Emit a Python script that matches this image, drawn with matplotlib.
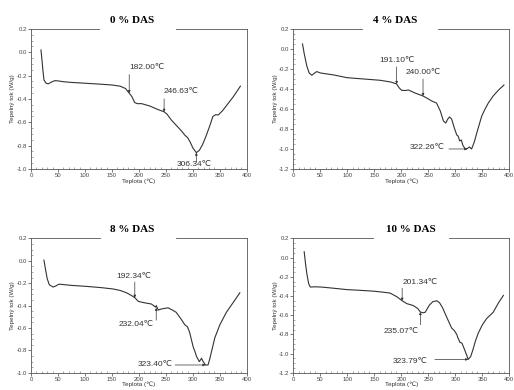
import matplotlib
matplotlib.use("Agg")
import matplotlib.pyplot as plt
from matplotlib.ticker import MultipleLocator
from matplotlib.lines import Line2D

plt.rcParams['font.family'] = ['Liberation Sans', 'DejaVu Sans']

# DSC curves: temperature (°C) and heat flow (W/g) for each DAS content
titles = ["0 % DAS", "4 % DAS", "8 % DAS", "10 % DAS"]

t_0 = [18.5, 20, 22, 24, 28, 32, 38, 44, 50, 60, 75, 100, 125, 150, 165, 175, 182, 187,
       192, 197, 205, 220, 235, 246.6, 252, 260, 270, 280, 285, 290, 295, 300, 306.3,
       312, 318, 325, 332, 337, 342, 347, 355, 365, 375, 388]
q_0 = [0.02, -0.05, -0.15, -0.237, -0.265, -0.27, -0.255, -0.243, -0.245, -0.252, -0.258,
       -0.265, -0.272, -0.28, -0.29, -0.31, -0.35, -0.38, -0.43, -0.44, -0.44, -0.46, -0.49,
       -0.51, -0.53, -0.58, -0.63, -0.68, -0.71, -0.73, -0.77, -0.82, -0.86, -0.84, -0.79,
       -0.71, -0.62, -0.55, -0.535, -0.537, -0.50, -0.44, -0.38, -0.29]

t_4 = [16.7, 20, 24.7, 29, 34, 38, 43, 50, 75, 99, 130, 160.5, 180, 191.1, 196, 200.7, 208,
       213, 225, 240, 250, 256, 265, 272, 277.8, 282, 286, 289, 293, 298, 302.5, 305, 308,
       311, 313.6, 318, 322.3, 326, 330, 335, 339.6, 348.8, 355, 361, 370, 380, 390]
q_4 = [0.05, -0.05, -0.17, -0.24, -0.263, -0.245, -0.226, -0.24, -0.26, -0.287, -0.30,
       -0.313, -0.33, -0.35, -0.39, -0.414, -0.415, -0.41, -0.44, -0.47, -0.50, -0.52, -0.54,
       -0.62, -0.72, -0.74, -0.70, -0.68, -0.70, -0.79, -0.86, -0.87, -0.92, -0.91, -0.96,
       -1.0, -0.995, -0.98, -1.0, -0.93, -0.84, -0.67, -0.60, -0.54, -0.47, -0.41, -0.36]

t_8 = [24, 27, 30, 34, 41, 46, 52, 75, 103, 130, 152, 165, 177, 186, 192.3, 199, 210, 223,
       231, 232, 236, 242, 254, 262, 269, 278, 285, 290, 294, 297, 300.6, 303, 307, 312,
       316, 319, 323.4, 328, 331, 334.5, 340.7, 350, 362, 375, 387]
q_8 = [0.005, -0.08, -0.16, -0.215, -0.235, -0.225, -0.209, -0.22, -0.229, -0.24, -0.252,
       -0.265, -0.286, -0.31, -0.33, -0.363, -0.375, -0.386, -0.414, -0.40, -0.44, -0.43,
       -0.42, -0.44, -0.46, -0.52, -0.571, -0.59, -0.64, -0.70, -0.77, -0.80, -0.857, -0.90,
       -0.87, -0.90, -0.93, -0.93, -0.88, -0.81, -0.686, -0.571, -0.46, -0.37, -0.286]

t_10 = [19.8, 22, 24.7, 28, 31, 40, 51, 75, 99, 125, 148, 165, 179, 192, 201.3, 210, 222,
        230, 235.1, 240, 244, 252, 258, 265.5, 270.5, 276, 281, 287, 293, 298, 302.5, 305,
        308.6, 312, 315, 319.8, 323.8, 328.4, 333, 337, 342.6, 350, 358, 370, 380, 389]
q_10 = [0.06, -0.05, -0.167, -0.27, -0.307, -0.305, -0.307, -0.32, -0.334, -0.342, -0.35,
        -0.36, -0.37, -0.41, -0.45, -0.48, -0.50, -0.53, -0.567, -0.575, -0.57, -0.494, -0.46,
        -0.45, -0.47, -0.52, -0.584, -0.66, -0.734, -0.76, -0.80, -0.84, -0.884, -0.89,
        -0.93, -1.0, -1.06, -1.03, -0.95, -0.87, -0.784, -0.70, -0.634, -0.57, -0.47, -0.394]

temps = [t_0, t_4, t_8, t_10]
flows = [q_0, q_4, q_8, q_10]

# Marked transition temperatures and the heat flow at each mark
mark_t = [[182.00, 246.63, 306.34], [191.10, 240.00, 322.26],
          [192.34, 232.04, 323.40], [201.34, 235.07, 323.79]]
mark_q = [[-0.35, -0.51, -0.86], [-0.35, -0.47, -1.0],
          [-0.33, -0.42, -0.93], [-0.45, -0.567, -1.06]]

ylims = [(-1.0, 0.2), (-1.2, 0.2), (-1.0, 0.2), (-1.2, 0.2)]

# Label layout per mark: (mode, text x, text y, ha, arrow start)
# 'down': arrow from above; 'up': arrow from below; 'left': horizontal arrow from the left
label_layout = [
    [('down', 183, -0.13, 'left', -0.19), ('down', 245, -0.34, 'left', -0.40),
     ('up', 303, -0.965, 'center', -0.94)],
    [('down', 191, -0.12, 'center', -0.18), ('down', 240, -0.24, 'center', -0.30),
     ('left', 247, -0.99, 'center', 288)],
    [('down', 190, -0.137, 'center', -0.19), ('up', 194, -0.57, 'center', -0.53),
     ('left', 231, -0.93, 'center', 267)],
    [('down', 203, -0.257, 'left', -0.32), ('up', 199, -0.767, 'center', -0.70),
     ('left', 217, -1.08, 'center', 262)],
]

positions = [(0.0603, 0.5667, 0.359), (0.571, 0.5667, 0.359),
             (0.0603, 0.044, 0.345), (0.571, 0.044, 0.345)]
title_x = [0.47, 0.47, 0.47, 0.545]
gaps = [(0.315, 0.67), (0.316, 0.668), (0.318, 0.67), (0.37, 0.72)]

fig = plt.figure(figsize=(5.14, 3.9), dpi=100)
line_col = '#333333'

for i in range(4):
    left, bottom, height = positions[i]
    ax = fig.add_axes([left, bottom, 0.420, height])
    ax.plot(temps[i], flows[i], color=line_col, lw=0.8)
    ax.set_xlim(0, 400)
    ax.set_ylim(*ylims[i])
    ax.xaxis.set_major_locator(MultipleLocator(50))
    ax.xaxis.set_minor_locator(MultipleLocator(10))
    ax.yaxis.set_major_locator(MultipleLocator(0.2))
    ax.yaxis.set_minor_locator(MultipleLocator(0.05))
    ax.yaxis.set_major_formatter(lambda v, pos: f"{v:.1f}")
    ax.tick_params(which='major', direction='out', length=2, width=0.5,
                   labelsize=4.3, colors='#444444', pad=1)
    ax.tick_params(which='minor', direction='in', length=1.5, width=0.4, colors='#666666')
    for s in ['left', 'right', 'bottom']:
        ax.spines[s].set_linewidth(0.6)
        ax.spines[s].set_color('#555555')
    ax.spines['top'].set_visible(False)
    g0, g1 = gaps[i]
    for xa, xb in [(0, g0), (g1, 1)]:
        ax.add_line(Line2D([xa, xb], [1, 1], transform=ax.transAxes, color='#555555',
                           lw=0.6, clip_on=False))
    ax.text(title_x[i], 1.064, titles[i], transform=ax.transAxes, ha='center',
            va='center', fontsize=8, fontweight='bold', family='Liberation Serif')
    ax.set_xlabel("Teplota (℃)", fontsize=4.5, labelpad=0, color='#333333')
    ax.set_ylabel("Tepelný tok (W/g)", fontsize=4.5, labelpad=1, color='#333333')

    for tm, qm, lay in zip(mark_t[i], mark_q[i], label_layout[i]):
        mode, tx, ty, ha, start = lay
        if mode in ('down', 'up'):
            xy_from = (tm, start)
        else:
            xy_from = (start, qm)
        ax.annotate('', xy=(tm, qm), xytext=xy_from,
                    arrowprops=dict(arrowstyle='-|>', lw=0.5, color='#333333',
                                    mutation_scale=3.5, shrinkA=0, shrinkB=0))
        ax.text(tx, ty, f"{tm:.2f}℃", fontsize=6, ha=ha, va='center', color='#333333')

fig.savefig("out.png", dpi=100)
